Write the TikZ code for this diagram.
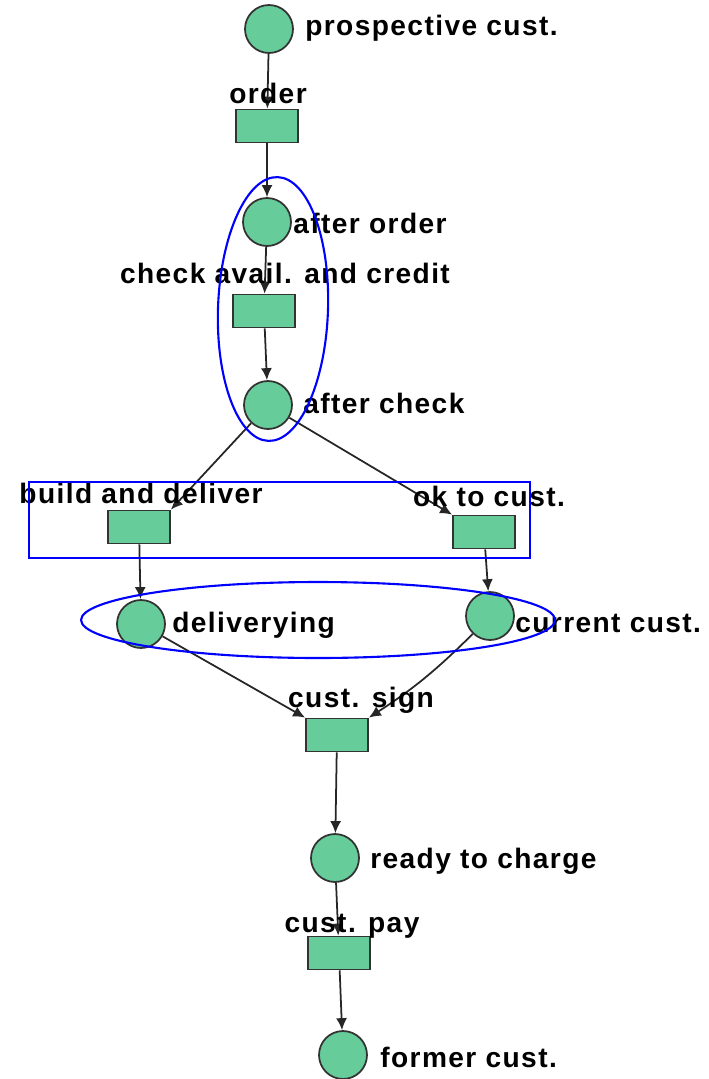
\documentclass[tikz,border=0pt]{standalone}
\usepackage{fontspec}
\setmainfont{Liberation Sans}[LetterSpace=5]
\usetikzlibrary{arrows.meta, positioning, shapes.geometric}
\definecolor{petri}{RGB}{102,204,153}

\begin{document}
\begin{tikzpicture}[x=0.02cm, y=-0.02cm,
        place/.style={circle, draw=black!80, fill=petri, minimum size=0.96cm, inner sep=0pt, line width=1pt},
        trans/.style={rectangle, draw=black!80, fill=petri, minimum width=1.24cm, minimum height=0.66cm, inner sep=0pt, line width=1pt},
        lbl/.style={font=\fontsize{16}{18}\selectfont\bfseries, inner sep=0pt},
        arc/.style={-{Latex[length=2.4mm,width=2.2mm]}, line width=1pt, black!85},
        group/.style={draw=blue, line width=1.2pt}]
    \useasboundingbox (0,0) rectangle (708,1079);
    % places and transitions
    \node[place] (p1) at (269,29) {};
    \node[trans] (t1) at (267,126) {};
    \node[place] (p2) at (267,222) {};
    \node[trans] (t2) at (264,311) {};
    \node[place] (p3) at (268,405) {};
    \node[trans] (t3) at (139,527) {};
    \node[trans] (t4) at (484,532) {};
    \node[place] (p4) at (141,624) {};
    \node[place] (p5) at (490,616) {};
    \node[trans] (t5) at (337,735) {};
    \node[place] (p6) at (335,858) {};
    \node[trans] (t6) at (339,953) {};
    \node[place] (p7) at (343,1055) {};
    % arcs
    \draw[arc] (p1) -- (t1);
    \draw[arc] (t1) -- (p2);
    \draw[arc] (p2) -- (t2);
    \draw[arc] (t2) -- (p3);
    \draw[arc] (p3) -- (t3.north east);
    \draw[arc] (p3) -- (t4.north west);
    \draw[arc] (t3) -- (p4);
    \draw[arc] (t4) -- (p5);
    \draw[arc] (p4) -- (t5.north west);
    \draw[arc] (p5) to[bend left=6] (t5.north east);
    \draw[arc] (t5) -- (p6);
    \draw[arc] (p6) -- (t6);
    \draw[arc] (t6) -- (p7);
    % labels
    \node[lbl, anchor=base west] (lp1) at (305,35) {prospective cust.};
    \node[lbl, anchor=base] (lt1) at (268,103) {order};
    \node[lbl, anchor=base west] (lp2) at (293,233) {after order};
    \node[lbl, anchor=base] (lt2) at (285,283) {check avail. and credit};
    \node[lbl, anchor=base west] (lp3) at (303,413) {after check};
    \node[lbl, anchor=base] (lt3) at (141,503) {build and deliver};
    \node[lbl, anchor=base] (lt4) at (489,506) {ok to cust.};
    \node[lbl, anchor=base west] (lp4) at (172,632) {deliverying};
    \node[lbl, anchor=base west] (lp5) at (515,632) {current cust.};
    \node[lbl, anchor=base] (lt5) at (361,707) {cust. sign};
    \node[lbl, anchor=base west] (lp6) at (370,868) {ready to charge};
    \node[lbl, anchor=base] (lt6) at (352,932) {cust. pay};
    \node[lbl, anchor=base west] (lp7) at (380,1067) {former cust.};
    % highlighted groups
    \draw[group, rotate around={-2:(273,309)}] (273,309) ellipse [x radius=1.1cm, y radius=2.64cm];
    \draw[group] (29,482) rectangle (530,558);
    \draw[group] (318,620) ellipse [x radius=4.74cm, y radius=0.76cm];
\end{tikzpicture}
\end{document}
